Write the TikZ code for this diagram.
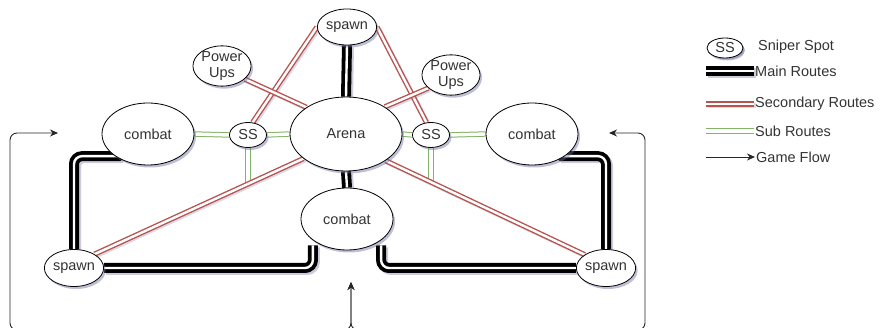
\documentclass[tikz,border=0pt]{standalone}
\usepackage{fontspec}
\setmainfont{Liberation Sans}
\usetikzlibrary{shapes.geometric,arrows.meta,backgrounds,shadows}

\definecolor{txt}{HTML}{333333}
\definecolor{secred}{HTML}{B85450}
\definecolor{subgreen}{HTML}{82B366}
\definecolor{shade}{RGB}{110,110,160}

\tikzset{
  place/.style={ellipse, draw=black, line width=0.8pt, fill=white, inner sep=0pt,
    text=txt, font=\fontsize{14.5}{16.5}\selectfont, align=center,
    drop shadow={shadow xshift=2pt, shadow yshift=-2.5pt, fill=shade, opacity=0.45}},
  mainroute/.style={draw=black, line width=3.8pt, double=white, double distance=2.4pt,
    preaction={draw=shade, opacity=0.35, line width=10pt,
      transform canvas={shift={(2pt,-2pt)}}}},
  secroute/.style={draw=secred, line width=1.4pt, double=white, double distance=2.4pt,
    preaction={draw=shade, opacity=0.25, line width=5pt,
      transform canvas={shift={(1.5pt,-1.5pt)}}}},
  subroute/.style={draw=subgreen, line width=1pt, double=white, double distance=3.4pt},
  flow/.style={draw=black!85, line width=0.9pt, rounded corners=7pt},
  flowtip/.style={-{Stealth[length=8pt,width=7pt]}},
  keytext/.style={anchor=west, inner sep=1pt, text=txt, font=\fontsize{14.5}{16.5}\selectfont},
}

\begin{document}
\begin{tikzpicture}[x=1pt, y=-1pt]
\useasboundingbox (0,0) rectangle (883,328);
\clip (0,0) rectangle (883,328);

% map locations
\node[place, minimum width=56pt, minimum height=36pt] (spT) at (347,27) {spawn};
\node[place, minimum width=112pt, minimum height=74pt] (arena) at (346,134) {Arena};
\node[place, minimum width=92pt, minimum height=62pt] (cL) at (148,134) {combat};
\node[place, minimum width=92pt, minimum height=62pt] (cR) at (532,134) {combat};
\node[place, minimum width=92pt, minimum height=62pt] (cC) at (347,219) {combat};
\node[place, minimum width=37pt, minimum height=25pt] (ssL) at (248,135) {SS};
\node[place, minimum width=37pt, minimum height=25pt] (ssR) at (431,135) {SS};
\node[place, minimum width=58pt, minimum height=36pt] (puL) at (222,66) {Power\\[-1pt]Ups};
\node[place, minimum width=56pt, minimum height=36pt] (puR) at (451,75) {Power\\[-1pt]Ups};
\node[place, minimum width=56pt, minimum height=37pt] (spL) at (74,268) {spawn};
\node[place, minimum width=56pt, minimum height=37pt] (spR) at (606,268) {spawn};

% ends of the short sub routes below the sniper spots
\coordinate (gL) at (248,183);
\coordinate (gR) at (431,183);

% game flow loop
\coordinate (fTipC) at (351,282);
\coordinate (fBot) at (351,330);
\coordinate (fBL) at (10,330);
\coordinate (fTL) at (10,133);
\coordinate (fTipL) at (58,133);
\coordinate (fBR) at (645,330);
\coordinate (fTR) at (645,133);
\coordinate (fTipR) at (609,133);

\begin{scope}[on background layer]
  % sub routes
  \draw[subroute] (cL.east) -- (ssL.west);
  \draw[subroute] (ssL.east) -- (arena.west);
  \draw[subroute] (ssL.south) -- (gL);
  \draw[subroute] (arena.east) -- (ssR.west);
  \draw[subroute] (ssR.east) -- (cR.west);
  \draw[subroute] (ssR.south) -- (gR);

  % secondary routes
  \draw[secroute] (spT.west) -- (ssL.70);
  \draw[secroute] (spT.east) -- (ssR.110);
  \draw[secroute] (puL.-30) -- (arena.146);
  \draw[secroute] (puR.210) -- (arena.35);
  \draw[secroute] (arena.210) -- (spL.34);
  \draw[secroute] (arena.-34) -- (spR.148);

  % main routes
  \draw[mainroute] (spT.south) -- (arena.north);
  \draw[mainroute] (arena.south) -- (cC.north);
  \draw[mainroute, rounded corners=8pt] ([xshift=6pt]cL.214) -| (spL.north);
  \draw[mainroute, rounded corners=8pt] ([xshift=-6pt]cR.-34) -| (spR.north);
  \draw[mainroute, rounded corners=8pt] (spL.east) -| ([yshift=-5pt]cC.212);
  \draw[mainroute, rounded corners=8pt] (spR.west) -| ([yshift=-5pt]cC.-32);
\end{scope}

% game flow
\draw[flow, flowtip] (fBot) -- (fBL) -- (fTL) -- (fTipL);
\draw[flow, flowtip] (fBot) -- (fBR) -- (fTR) -- (fTipR);
\draw[flow, flowtip] (fBL) -- (fBot) -- (fTipC);
\draw[flow, flowtip] (fBR) -- (fBot) -- (fTipC);

% key
\node[place, minimum width=36pt, minimum height=20pt, drop shadow={shadow xshift=1.5pt, shadow yshift=-1.5pt, fill=shade, opacity=0.4}] (kSS) at (725,48) {SS};
\node[keytext] (kSSt) at (757,47) {Sniper Spot};
\node[keytext] (kMain) at (754,71) {Main Routes};
\node[keytext] (kSec) at (754,104) {Secondary Routes};
\node[keytext] (kSub) at (754,131) {Sub Routes};
\node[keytext] (kFlow) at (755,157) {Game Flow};
\coordinate (kMainS) at (706,71);
\coordinate (kSecS) at (706,104);
\coordinate (kSubS) at (706,131);
\coordinate (kFlowS) at (706,157);
\draw[mainroute] (kMainS) -- (kMain.west);
\draw[secroute] (kSecS) -- (kSec.west);
\draw[subroute] (kSubS) -- (kSub.west);
\draw[flow, flowtip] (kFlowS) -- (kFlow.west);
\end{tikzpicture}
\end{document}
